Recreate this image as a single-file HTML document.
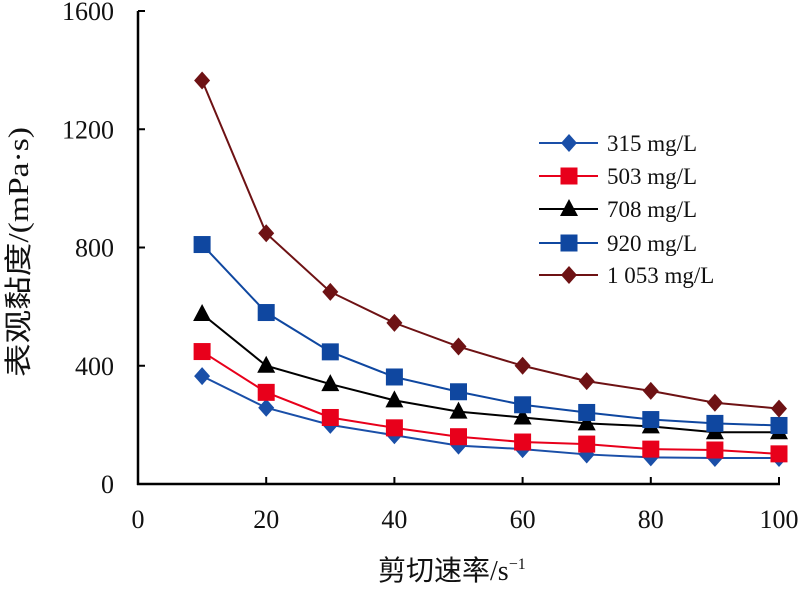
<!DOCTYPE html>
<html><head><meta charset="utf-8"><style>
body{margin:0;background:#fff}
svg{display:block}
.t{font-family:"Liberation Serif",serif;font-size:26px;fill:#111}
.lg{font-family:"Liberation Serif",serif;font-size:23px;fill:#111}
.ax{font-family:"Liberation Serif","Noto Sans CJK SC",sans-serif;font-size:28px;fill:#111}
</style></head><body>
<svg id="c" width="799" height="591"></svg>
<script>
const xValues=[10,20,30,40,50,60,70,80,90,100];
const seriesNames=["315 mg/L","503 mg/L","708 mg/L","920 mg/L","1 053 mg/L"];
const s315=[365,258,200,165,130,118,100,90,88,88];
const s503=[448,310,225,190,160,142,135,118,115,102];
const s708=[575,400,338,283,245,225,205,195,175,175];
const s920=[810,580,447,362,312,268,242,218,205,198];
const s1053=[1365,848,650,545,465,400,348,315,275,255];
const xTicks=[0,20,40,60,80,100];
const yTicks=[0,400,800,1200,1600];
const series=[s315,s503,s708,s920,s1053];
const colors=["#1a4fa8","#e8001b","#000000","#0f47a0","#6e1214"];
const markers=["diamond","square","triangle","square","diamond"];
const NS="http://www.w3.org/2000/svg";
const svg=document.getElementById('c');
const X=v=>138+v*(779-138)/100;
const Y=v=>484-v*(484-11)/1600;
function mk(t,a,p){const e=document.createElementNS(NS,t);for(const k in a)e.setAttribute(k,a[k]);(p||svg).appendChild(e);return e;}
let e=mk('line',{x1:138,y1:11,x2:138,y2:485,stroke:'#000','stroke-width':2.5});


e=mk('line',{x1:137,y1:484,x2:780,y2:484,stroke:'#000','stroke-width':2.5});


xTicks.forEach(v=>{
 mk('line',{x1:X(v),y1:484,x2:X(v),y2:477,stroke:'#000','stroke-width':2});
 e=mk('text',{x:X(v),y:528,'text-anchor':'middle',class:'t'});e.textContent=v;
 
 
});
yTicks.forEach(v=>{
 mk('line',{x1:138,y1:Y(v),x2:145,y2:Y(v),stroke:'#000','stroke-width':2});
 e=mk('text',{x:114,y:Y(v)+9,'text-anchor':'end',class:'t'});e.textContent=v;
 
 
});
e=mk('text',{x:378,y:580,class:'ax'});e.innerHTML='剪切速率/s<tspan dy="-11" font-size="16">−1</tspan>';


e=mk('text',{x:0,y:0,'text-anchor':'middle',class:'ax',textLength:250,lengthAdjust:'spacingAndGlyphs',transform:'translate(28,252) rotate(-90)'});e.textContent='表观黏度/(mPa·s)';


function marker(type,x,y,c,g){
 if(type==='diamond')return mk('polygon',{points:`${x},${y-9} ${x+8},${y} ${x},${y+9} ${x-8},${y}`,fill:c},g);
 if(type==='square')return mk('rect',{x:x-8.5,y:y-8.5,width:17,height:17,fill:c},g);
 return mk('polygon',{points:`${x},${y-10} ${x+9},${y+7} ${x-9},${y+7}`,fill:c},g);
}
const legendY=[143,176,209,243,275];
series.forEach((s,i)=>{
 const g=mk('g',{});
 
 
 mk('polyline',{points:s.map((v,j)=>X(xValues[j])+','+Y(v)).join(' '),fill:'none',stroke:colors[i],'stroke-width':2},g);
 s.forEach((v,j)=>{const m=marker(markers[i],X(xValues[j]),Y(v),colors[i],g);
  
  });
 const ly=legendY[i];
 const lg=mk('g',{});
 
 
 mk('line',{x1:539,y1:ly,x2:598,y2:ly,stroke:colors[i],'stroke-width':2},lg);
 marker(markers[i],569,ly,colors[i],lg);
 const t=mk('text',{x:607,y:ly+8,class:'lg'},lg);t.textContent=seriesNames[i];
});
</script>
</body></html>
